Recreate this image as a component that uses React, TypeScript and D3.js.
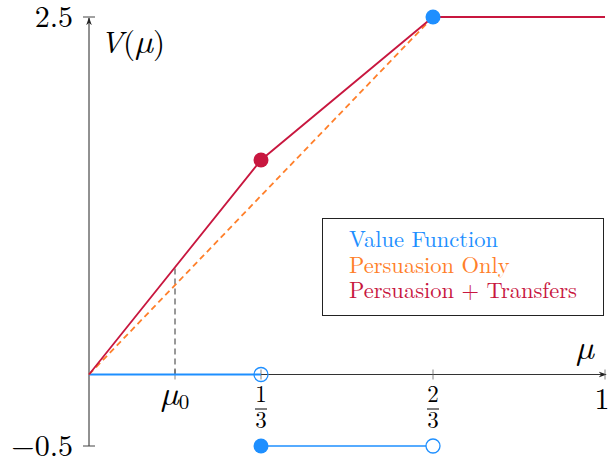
import { useMemo } from "react";
import { scaleLinear, line } from "d3";

const width = 610;
const height = 463;

const xDomain = [0, 1];
const yDomain = [-0.5, 2.5];
const yTicks = [2.5, -0.5];
const mu0 = 1 / 6;

// piecewise series
const transfersX = [0, 1 / 3, 2 / 3, 1];
const transfersY = [0, 1.5, 2.5, 2.5];
const persuasionX = [0, 2 / 3];
const persuasionY = [0, 2.5];
const valueLowX = [0, 1 / 3];
const valueLowY = [0, 0];
const valueMidX = [1 / 3, 2 / 3];
const valueMidY = [-0.5, -0.5];

const legendLabels = ["Value Function", "Persuasion Only", "Persuasion + Transfers"];

const blue = "#1e8fff";
const orange = "#ff7f2a";
const red = "#c8173f";
const font = "'Latin Modern Roman', 'CMU Serif', 'DejaVu Serif', serif";
const MU = "\u00b5";

const x = scaleLinear().domain(xDomain).range([89, 605]);
const y = scaleLinear().domain(yDomain).range([446, 17]);

const toPts = (xs: number[], ys: number[]) => xs.map((v, i) => [v, ys[i]] as [number, number]);
const path = line<[number, number]>()
  .x((d) => x(d[0]))
  .y((d) => y(d[1]));

export default function App() {
  const transfers = useMemo(() => path(toPts(transfersX, transfersY)), []);
  const persuasion = useMemo(() => path(toPts(persuasionX, persuasionY)), []);
  const lowSeg = path(toPts(valueLowX, valueLowY));
  const midSeg = path(toPts(valueMidX, valueMidY));
  const redAt = (m: number) => 1.5 * m * 3; // red line on [0, 1/3]

  return (
    <div style={{ position: "absolute", left: 0, top: 0 }}>
      <svg width={width} height={height} style={{ fontFamily: font }}>
        <defs>
          <marker id="arr" viewBox="0 0 10 10" refX="9" refY="5" markerWidth="8" markerHeight="8" orient="auto">
            <path d="M0,1.5 L10,5 L0,8.5 L3,5 z" fill="#222" />
          </marker>
        </defs>

        {/* axes */}
        <line x1={x(0)} x2={x(0)} y1={y(-0.5)} y2={y(2.5) + 1} stroke="#222" strokeWidth={1} markerEnd="url(#arr)" />
        <line x1={x(0)} x2={x(1) + 1} y1={y(0)} y2={y(0)} stroke="#333" strokeWidth={1} markerEnd="url(#arr)" />
        {yTicks.map((t) => (
          <g key={t}>
            <line x1={x(0) - 6} x2={x(0) + 6} y1={y(t)} y2={y(t)} stroke="#444" />
            <text x={73} y={y(t) + 10} textAnchor="end" fontSize={30}>
              {t < 0 ? `\u2212${Math.abs(t)}` : t}
            </text>
          </g>
        ))}
        {[1 / 6, 1 / 3, 2 / 3, 1].map((t) => (
          <line key={t} x1={x(t)} x2={x(t)} y1={y(0) - 5} y2={y(0) + 5} stroke="#666" strokeWidth={0.8} />
        ))}

        {/* axis labels */}
        <text x={100} y={53} fontSize={31}>
          <tspan fontStyle="italic">V</tspan>(<tspan fontStyle="italic" fontSize={35}>{MU}</tspan>)
        </text>
        <text x={576} y={359} fontSize={35} fontStyle="italic">{MU}</text>

        {/* x tick labels */}
        <text x={x(mu0)} y={405} textAnchor="middle" fontSize={35}>
          <tspan fontStyle="italic">{MU}</tspan>
          <tspan fontSize={21} dy={4}>0</tspan>
        </text>
        {[1, 2].map((n) => (
          <g key={n} transform={`translate(${x(n / 3)},0)`} fontSize={23} textAnchor="middle">
            <text y={402}>{n}</text>
            <line x1={-6} x2={6} y1={409} y2={409} stroke="#000" strokeWidth={1} />
            <text y={428}>3</text>
          </g>
        ))}
        <text x={x(1) - 3} y={409} textAnchor="middle" fontSize={30}>1</text>

        {/* mu0 dashed */}
        <line x1={x(mu0)} x2={x(mu0)} y1={y(0)} y2={y(redAt(mu0))} stroke="#333" strokeDasharray="6,4" strokeWidth={1} />

        {/* value function */}
        <path d={lowSeg ?? ""} stroke={blue} strokeWidth={2.2} fill="none" />
        <path d={midSeg ?? ""} stroke={blue} strokeWidth={1.6} fill="none" />
        <circle cx={x(1 / 3)} cy={y(0)} r={7} fill="none" stroke={blue} strokeWidth={1.3} />
        <circle cx={x(1 / 3)} cy={y(-0.5)} r={7.5} fill={blue} />
        <circle cx={x(2 / 3)} cy={y(-0.5)} r={7} fill="white" stroke={blue} strokeWidth={1.3} />

        {/* persuasion only */}
        <path d={persuasion ?? ""} stroke={orange} strokeWidth={1.8} strokeDasharray="6,4" fill="none" />

        {/* persuasion + transfers */}
        <path d={transfers ?? ""} stroke={red} strokeWidth={1.8} fill="none" />
        <circle cx={x(1 / 3)} cy={y(1.5)} r={7.5} fill={red} />
        <circle cx={x(2 / 3)} cy={y(2.5)} r={7.5} fill={blue} />

        {/* legend */}
        <rect x={322.5} y={218.5} width={281} height={97} fill="white" stroke="#222" strokeWidth={1} />
        {legendLabels.map((l, i) => (
          <text key={l} x={349} y={247 + i * 25.5} fontSize={22.5} fill={[blue, orange, red][i]}>
            {l}
          </text>
        ))}
      </svg>
    </div>
  );
}
